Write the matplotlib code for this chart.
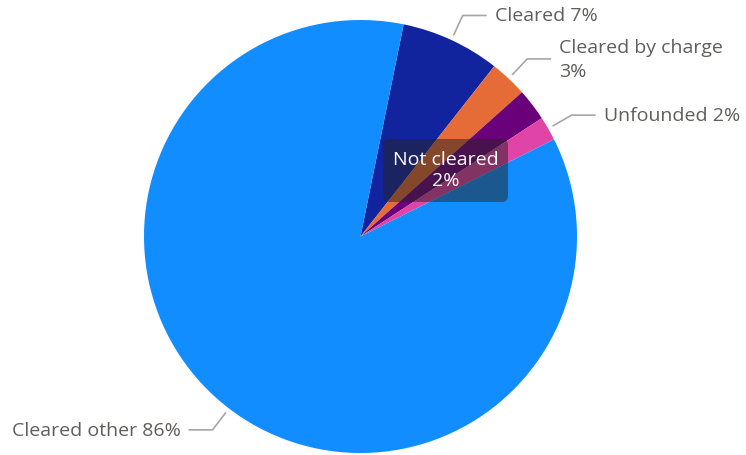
import numpy as np
import matplotlib
matplotlib.use("Agg")
from matplotlib import pyplot as plt
from matplotlib.patches import FancyBboxPatch

# slices in clockwise order starting just right of the top
labels = ["Cleared", "Cleared by charge", "Not cleared", "Unfounded", "Cleared other"]
values = [7.4, 2.8, 2.4, 1.8, 85.6]
shown = ["7%", "3%", "2%", "2%", "86%"]
colors = ["#12239E", "#E66C37", "#6B007B", "#E044A7", "#118DFF"]

plt.rcParams['font.family'] = ['Open Sans', 'DejaVu Sans']

W, H = 746, 455
cx, cy, R = 360.5, 236.5, 216.5

fig = plt.figure(figsize=(W / 100, H / 100), dpi=100)
ax = fig.add_axes([0, 0, 1, 1])

start = 78.5
wedges, _ = ax.pie(values, colors=colors, radius=R, startangle=start,
                   counterclock=False, wedgeprops=dict(linewidth=0))
# pie() resets the view, so set it afterwards
ax.set_xlim(-cx, W - cx)
ax.set_ylim(-(H - cy), cy)
ax.set_aspect("equal")
ax.axis("off")

text_col = "#605E5C"
line_col = "#A6A6A6"
fs = 14

# outside labels with leader lines (skip "Not cleared", shown as tooltip)
for w, lab, s in zip(wedges, labels, shown):
    if lab == "Not cleared":
        continue
    mid = np.deg2rad((w.theta1 + w.theta2) / 2)
    x0, y0 = (R + 5) * np.cos(mid), (R + 5) * np.sin(mid)
    x1, y1 = (R + 27) * np.cos(mid), (R + 27) * np.sin(mid)
    sign = 1 if np.cos(mid) >= 0 else -1
    x2 = x1 + sign * 24
    ax.plot([x0, x1, x2], [y0, y1, y1], color=line_col, lw=1.2,
            solid_capstyle="butt")
    txt = f"{lab} {s}"
    if lab == "Cleared by charge":
        txt = f"{lab}\n{s}"
    ax.text(x2 + sign * 8, y1 - 1, txt, color=text_col, fontsize=fs,
            ha="left" if sign > 0 else "right", va="center",
            linespacing=1.45)

# tooltip-like box for "Not cleared"
bx0, by0, bx1, by1 = 383 - cx, cy - 202, 508 - cx, cy - 139
box = FancyBboxPatch((bx0, by0), bx1 - bx0, by1 - by0,
                     boxstyle="round,pad=0,rounding_size=6",
                     facecolor="#252423", alpha=0.5, edgecolor="none")
ax.add_patch(box)
ax.text((bx0 + bx1) / 2, (by0 + by1) / 2, f"{labels[2]}\n{shown[2]}",
        color="white", fontsize=fs, ha="center", va="center",
        linespacing=1.25)

fig.savefig("out.png", dpi=100)
